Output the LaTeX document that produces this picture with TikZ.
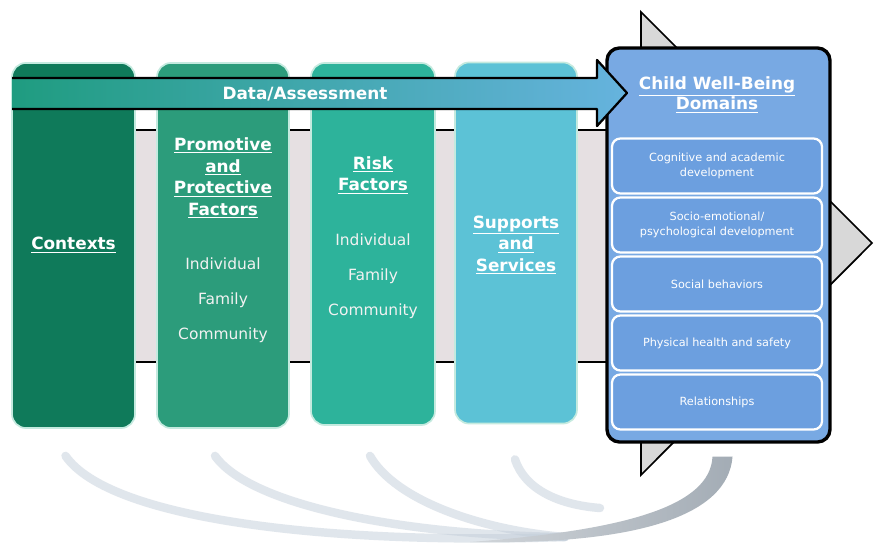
\documentclass[tikz,border=0pt]{standalone}
\usepackage{fontspec}
\setmainfont{DejaVu Sans}
\usetikzlibrary{calc}
\definecolor{ctxgreen}{HTML}{0F7A5A}
\definecolor{promgreen}{HTML}{2C9C7B}
\definecolor{riskteal}{HTML}{2DB39B}
\definecolor{supcyan}{HTML}{5CC2D6}
\definecolor{domblue}{HTML}{78A9E3}
\definecolor{domrow}{HTML}{6C9FDF}
\definecolor{colrim}{HTML}{C4EADF}
\definecolor{bandgray}{HTML}{E6E0E2}
\definecolor{trigray}{HTML}{D8D8D8}
\definecolor{arrowteal}{HTML}{1F9C80}
\definecolor{arrowblue}{HTML}{66B3DE}
\definecolor{swooshblue}{HTML}{C3CEDA}
\definecolor{arcgray}{HTML}{A3ACB5}
\tikzset{
  column/.style={draw=colrim, line width=1.2pt, rounded corners=10pt, inner sep=0pt},
  heading/.style={text=white, font=\bfseries\fontsize{12}{15.4}\selectfont, align=center},
  item/.style={text=white!90!gray, font=\fontsize{11}{24.9}\selectfont, align=center},
  domainrow/.style={draw=white, line width=1.6pt, fill=domrow, rounded corners=6pt,
    minimum width=5.25cm, minimum height=1.375cm, inner sep=0pt, text=white,
    align=center, font=\fontsize{8}{10.5}\selectfont},
  swoosh/.style={draw=swooshblue, line width=6pt, opacity=0.5, line cap=round}
}
\begin{document}
\begin{tikzpicture}[x=0.025cm, y=-0.025cm]
  \useasboundingbox[fill=white] (0,0) rectangle (882,545);
  % big arrow behind the domains
  \draw[fill=trigray, line width=1.2pt] (641,12) -- (872,243) -- (641,475) -- cycle;
  % band behind the columns
  \fill[bandgray] (12,130) rectangle (607,362);
  \draw[line width=2pt] (12,130) -- (607,130) (12,362) -- (607,362);
  \node[draw=black, line width=2.4pt, fill=domblue, rounded corners=9pt,
    minimum width=5.575cm, minimum height=9.85cm] (domains) at (718.5,245) {};
  \node[column, fill=ctxgreen, minimum width=3.075cm, minimum height=9.125cm] (contexts) at (73.5,245.5) {};
  \node[column, fill=promgreen, minimum width=3.3cm, minimum height=9.125cm] (promotive) at (223,245.5) {};
  \node[column, fill=riskteal, minimum width=3.1cm, minimum height=9.05cm] (risk) at (373,244) {};
  \node[column, fill=supcyan, minimum width=3.05cm, minimum height=9.025cm] (supports) at (516,243) {};
  % column texts
  \node[heading] (contexts title) at (73.5,245) {\underline{Contexts}};
  \node[heading] (promotive title) at (223,178) {\underline{Promotive}\\\underline{and}\\\underline{Protective}\\\underline{Factors}};
  \node[item] (promotive items) at (223,300) {Individual\\Family\\Community};
  \node[heading] (risk title) at (373,175) {\underline{Risk}\\\underline{Factors}};
  \node[item] (risk items) at (373,276) {Individual\\Family\\Community};
  \node[heading] (supports title) at (516,245) {\underline{Supports}\\\underline{and}\\\underline{Services}};
  % domains
  \node[heading, font=\bfseries\fontsize{12}{14.2}\selectfont] (domains title) at (717,95) {\underline{Child Well-Being}\\\underline{Domains}};
  \node[domainrow] (cognitive) at (717,166) {Cognitive and academic\\development};
  \node[domainrow] (socio) at (717,225) {Socio-emotional/\\psychological development};
  \node[domainrow] (social) at (717,284) {Social behaviors};
  \node[domainrow] (physical) at (717,343) {Physical health and safety};
  \node[domainrow] (relations) at (717,402) {Relationships};
  % data arrow
  \shade[left color=arrowteal, right color=arrowblue]
    (12,78) -- (597,78) -- (597,60) -- (627,93) -- (597,126) -- (597,109) -- (12,109) -- cycle;
  \draw[line width=1.6pt, line join=round]
    (12,78) -- (597,78) -- (597,60) -- (627,93) -- (597,126) -- (597,109) -- (12,109);
  \node[heading] (data) at (305,94) {Data/Assessment};
  % feedback swooshes
  \coordinate (base) at (565,537);
  \draw[swoosh] ($(contexts.south)+(-8,27)$) .. controls (110,520) and (330,545) .. (base);
  \draw[swoosh] ($(promotive.south)+(-8,27)$) .. controls (250,505) and (400,535) .. (base);
  \draw[swoosh] ($(risk.south)+(-3,30)$) .. controls (395,500) and (480,530) .. (base);
  \draw[swoosh] ($(supports.south)+(-1,35)$) .. controls (525,490) and (560,505) .. (600,508);
  \shade[left color=white!50!arcgray, right color=arcgray]
    ($(domains.south)+(-6,13)$) -- ++(20,0) .. controls (728,515) and (640,545) .. (470,542)
    .. controls (630,530) and (710,505) .. cycle;
\end{tikzpicture}
\end{document}
